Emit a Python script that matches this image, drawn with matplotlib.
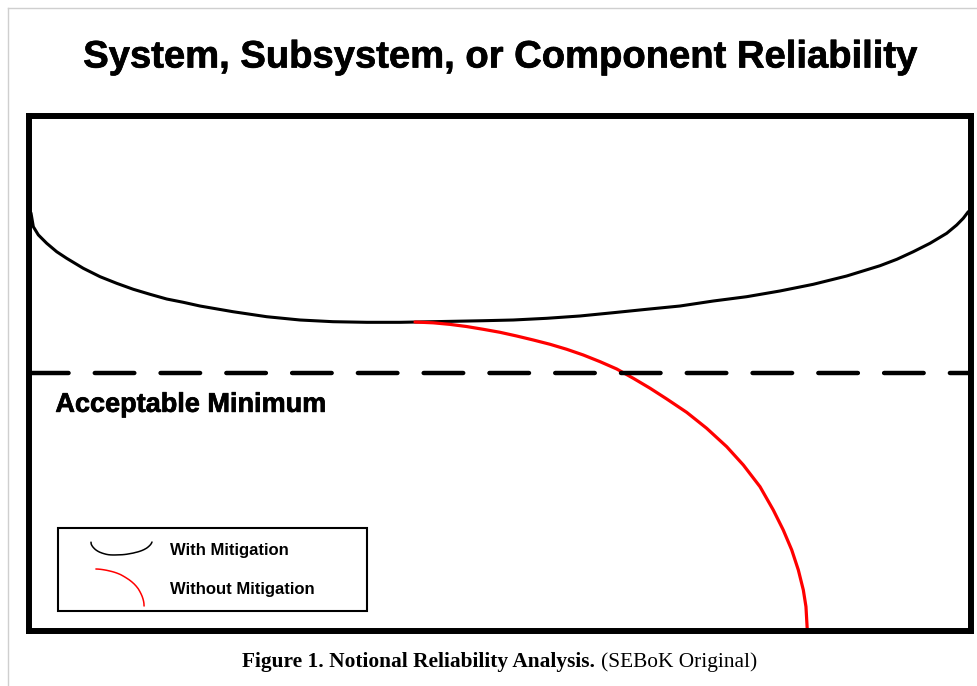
import numpy as np
import matplotlib
matplotlib.use("Agg")
import matplotlib.pyplot as plt
import matplotlib.patheffects as pe
from matplotlib.lines import Line2D
from matplotlib.patches import Rectangle
from matplotlib.legend_handler import HandlerBase
from matplotlib.offsetbox import TextArea, HPacker, AnnotationBbox

# Notional reliability curves (time 0-100, reliability 0-100)
time_with = [0.21, 0.46, 0.99, 1.88, 2.94, 4.00, 5.76, 7.54, 9.31, 11.07, 12.84,
             14.62, 16.38, 18.15, 21.66, 25.23, 28.77, 32.27, 35.88, 39.38,
             42.89, 48.20, 51.41, 54.96, 58.49, 62.03, 65.57, 69.11, 72.64,
             76.19, 79.72, 83.26, 86.80, 90.34, 92.13, 93.87, 95.65, 97.42,
             98.48, 99.18, 99.71]
rel_with = [81.15, 78.48, 76.89, 75.26, 73.62, 72.34, 70.40, 68.77, 67.48, 66.32,
            65.35, 64.43, 63.79, 63.07, 61.96, 60.99, 60.35, 60.02, 59.90, 59.90,
            60.02, 60.21, 60.35, 60.68, 61.13, 61.77, 62.43, 63.07, 64.04,
            64.88, 65.99, 67.29, 68.90, 70.90, 72.15, 73.62, 75.26, 77.20,
            78.81, 80.12, 81.40]

time_without = [40.98, 42.92, 44.69, 46.46, 48.23, 50.00, 51.77, 53.54, 55.31,
                57.08, 58.84, 60.62, 62.39, 64.15, 65.92, 67.70, 69.82, 71.94,
                74.07, 75.83, 77.60, 79.01, 80.07, 80.97, 81.67, 82.20, 82.48,
                82.62]
rel_without = [59.96, 59.80, 59.50, 59.08, 58.54, 57.96, 57.24, 56.46, 55.63,
               54.66, 53.55, 52.25, 50.83, 49.02, 47.10, 45.00, 42.40, 39.30,
               35.72, 32.17, 27.95, 23.42, 19.53, 15.65, 11.76, 7.87, 4.63, 0.10]

acceptable_min = 50.0

title = "System, Subsystem, or Component Reliability"
min_label = "Acceptable Minimum"
series_labels = ["With Mitigation", "Without Mitigation"]
caption_bold = "Figure 1. Notional Reliability Analysis."
caption_rest = "(SEBoK Original)"


class CurveHandler(HandlerBase):
    """Legend glyph that is a shrunken copy of the plotted curve."""

    def __init__(self, xspan, yspan, lw=1.1):
        super().__init__()
        self.xspan = xspan
        self.yspan = yspan
        self.lw = lw

    def create_artists(self, legend, orig_handle, xdescent, ydescent,
                       width, height, fontsize, trans):
        x, y = orig_handle.get_data()
        x = np.asarray(x, float)
        y = np.asarray(y, float)
        xn = (x - x.min()) / (x.max() - x.min())
        yn = (y - y.min()) / (y.max() - y.min())
        x0, x1 = self.xspan
        y0, y1 = self.yspan
        xs = -xdescent + width * (x0 + (x1 - x0) * xn)
        ys = -ydescent + height * (y0 + (y1 - y0) * yn)
        line = Line2D(xs, ys, color=orig_handle.get_color(), lw=self.lw,
                      solid_capstyle="round", solid_joinstyle="round")
        line.set_transform(trans)
        return [line]


W, H = 978, 686
fig = plt.figure(figsize=(W / 100, H / 100), dpi=100)
fig.patch.set_facecolor("white")

# page frame (thin grey lines top and left)
fig.add_artist(Line2D([8 / W, 8 / W], [0, 1 - 8 / H], transform=fig.transFigure,
                      color="#cfcfcf", lw=1))
fig.add_artist(Line2D([8 / W, 1], [1 - 8 / H, 1 - 8 / H], transform=fig.transFigure,
                      color="#cfcfcf", lw=1))

ax = fig.add_axes([29 / W, (H - 630.5) / H, 942 / W, 514.5 / H])
ax.set_xlim(0, 100)
ax.set_ylim(0, 100)
ax.set_xticks([])
ax.set_yticks([])
for sp in ax.spines.values():
    sp.set_linewidth(4.3)
    sp.set_capstyle("projecting")

line_with, = ax.plot(time_with, rel_with, color="black", lw=2.2,
                     solid_capstyle="round", solid_joinstyle="round")
line_without, = ax.plot(time_without, rel_without, color="#ff0000", lw=2.3,
                        solid_capstyle="round", solid_joinstyle="round")

ax.axhline(acceptable_min, color="black", lw=3.2, dash_capstyle="round",
           linestyle=(0, (8.9, 5.9)))

ax.text(2.8, 42.5, min_label, fontsize=19.5, fontweight="bold",
        family="Liberation Sans", ha="left", va="baseline",
        path_effects=[pe.withStroke(linewidth=0.5, foreground="black")])

# legend: glyphs are small copies of the curves, frame drawn separately
ax.add_patch(Rectangle((29 / 942, 19.5 / 514.5), 309 / 942, 83 / 514.5,
                       transform=ax.transAxes, fill=False, ec="black", lw=1.5,
                       zorder=3))
leg = ax.legend([line_with, line_without], series_labels,
                handler_map={line_with: CurveHandler((0.0, 1.0), (0.37, 0.72)),
                             line_without: CurveHandler((0.08, 0.87), (0.045, 1.045))},
                loc="upper left", bbox_to_anchor=(62 / 942, 98.85 / 514.5),
                borderaxespad=0, borderpad=0, frameon=False,
                handlelength=3.66, handleheight=3.04, handletextpad=1.08,
                labelspacing=0.12,
                prop={"family": "Liberation Sans", "weight": "bold", "size": 12})

fig.text(501 / W, 1 - 67.5 / H, title, fontsize=27.5, fontweight="bold",
         family="Liberation Sans", ha="center", va="baseline",
         path_effects=[pe.withStroke(linewidth=0.5, foreground="black")])

cap = HPacker(children=[
    TextArea(caption_bold, textprops=dict(family="Liberation Serif", weight="bold",
                                          size=15.4)),
    TextArea(caption_rest, textprops=dict(family="Liberation Serif", size=15.4)),
], sep=4, pad=0, align="baseline")
ab = AnnotationBbox(cap, (499.5 / W, 1 - 662 / H), xycoords="figure fraction",
                    frameon=False, box_alignment=(0.5, 0.5))
fig.add_artist(ab)

fig.savefig("out.png", dpi=100, facecolor="white")
